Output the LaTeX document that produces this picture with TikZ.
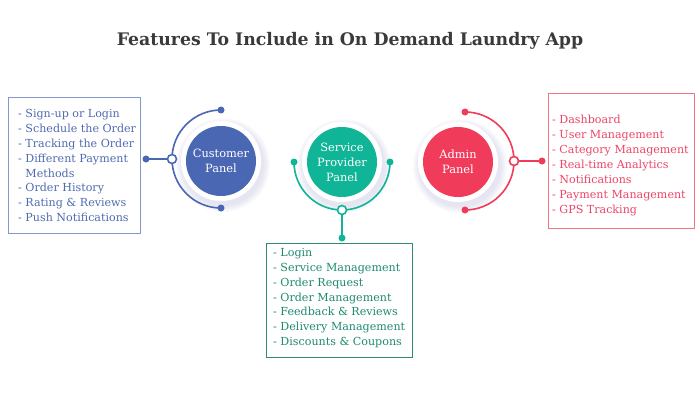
\documentclass[tikz,border=0pt]{standalone}
\usepackage{fontspec}
\setmainfont{DejaVu Serif}
\definecolor{cblue}{HTML}{4A67B3}
\definecolor{cbluebox}{HTML}{8397CF}
\definecolor{cbluetxt}{HTML}{4F6BB0}
\definecolor{cteal}{HTML}{10B496}
\definecolor{ctealbox}{HTML}{2E8B6E}
\definecolor{ctealtxt}{HTML}{1F8A70}
\definecolor{cred}{HTML}{F03B5A}
\definecolor{credbox}{HTML}{F07585}
\definecolor{credtxt}{HTML}{EE4466}
\definecolor{ctitle}{HTML}{3A3A3A}
\tikzset{
  panel/.style={circle, fill=#1, minimum size=70pt, inner sep=0pt, text=white, align=center, font=\fontsize{11.4}{15}\selectfont},
  ring/.style={circle, fill=white, minimum size=80pt, inner sep=0pt},
  dotf/.style={circle, fill=#1, minimum size=7pt, inner sep=0pt},
  doto/.style={circle, draw=#1, fill=white, line width=1.6pt, minimum size=9pt, inner sep=0pt},
  armline/.style={draw=#1, line width=1.6pt},
  listbox/.style={draw=#1, line width=1pt, inner sep=0pt, anchor=north west},
  listtxt/.style={text=#1, align=left, anchor=north west, inner sep=0pt, font=\fontsize{11.1}{14.9}\selectfont}
}
\begin{document}
\begin{tikzpicture}[x=1pt,y=1pt]
\useasboundingbox (0,0) rectangle (700,400);
\fill[white] (0,0) rectangle (700,400);
% title
\node[text=ctitle, font=\bfseries\fontsize{17.3}{20}\selectfont] (title) at (350,359) {Features To Include in On Demand Laundry App};
% shadows
\foreach \cx/\cy in {221/239, 342/238, 458/238}{
  \foreach \r in {41,42,...,47}{
    \fill[gray!60!blue!40, opacity=0.05] (\cx+2,\cy-4) circle (\r);
  }
}
% customer
\node[ring] (cring) at (221,239) {};
\node[panel=cblue] (cust) at (221,239) {Customer\\Panel};
\node[dotf=cblue] (ctop) at (221,290) {};
\node[dotf=cblue] (cbot) at (221,192) {};
\draw[armline=cblue] (ctop.center) arc[start angle=90, end angle=270, radius=49];
\node[doto=cblue] (copen) at (172,241) {};
\node[dotf=cblue] (cend) at (146,241) {};
\draw[armline=cblue] (copen) -- (cend.center);
\node[listbox=cbluebox, minimum width=132pt, minimum height=136pt] (cbox) at (8,303) {};
\node[listtxt=cbluetxt] (ctxt) at (18,291) {- Sign-up or Login\\- Schedule the Order\\- Tracking the Order\\- Different Payment\\\hphantom{- }Methods\\- Order History\\- Rating \& Reviews\\- Push Notifications};
% service provider
\node[ring] (sring) at (342,238) {};
\node[panel=cteal] (serv) at (342,238) {Service\\Provider\\Panel};
\node[dotf=cteal] (sleft) at (294,238) {};
\node[dotf=cteal] (sright) at (390,238) {};
\draw[armline=cteal] (sleft.center) arc[start angle=180, end angle=360, radius=48];
\node[doto=cteal] (sopen) at (342,190) {};
\node[dotf=cteal] (send) at (342,162) {};
\draw[armline=cteal] (sopen) -- (send.center);
\node[listbox=ctealbox, minimum width=146pt, minimum height=114pt] (sbox) at (266,157) {};
\node[listtxt=ctealtxt] (stxt) at (273,152) {- Login\\- Service Management\\- Order Request\\- Order Management\\- Feedback \& Reviews\\- Delivery Management\\- Discounts \& Coupons};
% admin
\node[ring] (aring) at (458,238) {};
\node[panel=cred] (adm) at (458,238) {Admin\\Panel};
\node[dotf=cred] (atop) at (465,288) {};
\node[dotf=cred] (abot) at (465,190) {};
\draw[armline=cred] (abot.center) arc[start angle=-90, end angle=90, radius=49];
\node[doto=cred] (aopen) at (514,239) {};
\node[dotf=cred] (aend) at (542,239) {};
\draw[armline=cred] (aopen) -- (aend.center);
\node[listbox=credbox, minimum width=146pt, minimum height=135pt] (abox) at (548,307) {};
\node[listtxt=credtxt] (atxt) at (552,285) {- Dashboard\\- User Management\\- Category Management\\- Real-time Analytics\\- Notifications\\- Payment Management\\- GPS Tracking};
\end{tikzpicture}
\end{document}
